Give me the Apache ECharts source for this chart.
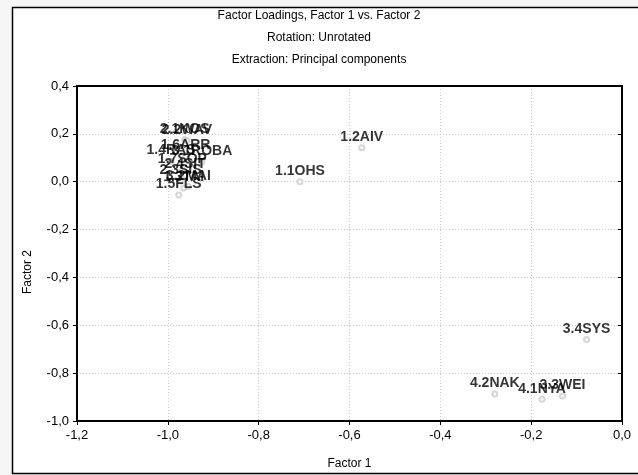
<!DOCTYPE html>
<html>
<head>
<meta charset="utf-8">
<script src="https://cdn.jsdelivr.net/npm/echarts@6/dist/echarts.min.js"></script>
<style>
  html, body { margin: 0; padding: 0; background: #f5f5f5; }
  #chart { width: 638px; height: 475px; }
</style>
</head>
<body>
<div id="chart"></div>
<script>
// variable names and their loadings on the first two (unrotated) factors
const varNames = ['1.1OHS', '1.2AIV', '1.3TAI', '1.4RAS', '1.5FLS', '1.6ARR', '1.7SOP',
    '2.1KOS', '2.2WAV', '2.3SIS', '2.4SIT', '3.1ROBA', '3.2MAI',
    '3.3WEI', '3.4SYS', '4.1NYA', '4.2NAK'];
const factor1 = [-0.709, -0.573, -0.965, -0.993, -0.976, -0.961, -0.968,
    -0.963, -0.958, -0.972, -0.962, -0.925, -0.955,
    -0.131, -0.078, -0.176, -0.280];
const factor2 = [0.000, 0.142, -0.026, 0.086, -0.055, 0.107, 0.049,
    0.176, 0.172, 0.003, 0.028, 0.082, -0.020,
    -0.896, -0.659, -0.909, -0.887];

const titleLines = ['Factor Loadings, Factor 1 vs. Factor 2', 'Rotation: Unrotated', 'Extraction: Principal components'];

const fmt = v => v.toFixed(1).replace('.', ',');

const chart = echarts.init(document.getElementById('chart'));

const points = varNames.map((n, i) => ({ name: n, value: [factor1[i], factor2[i]] }));

const gridLine = { show: true, lineStyle: { color: '#c8c8c8', type: [1, 2], width: 1 } };

const option = {
    backgroundColor: '#f5f5f5',
    animation: false,
    textStyle: { fontFamily: 'Liberation Sans, Arial, sans-serif' },
    graphic: [
        {
            type: 'rect', z: -10, silent: true,
            shape: { x: 12.5, y: 7.5, width: 640, height: 466 },
            style: { fill: '#ffffff', stroke: '#000', lineWidth: 1.5 }
        },
        ...titleLines.map((t, i) => ({
            type: 'text', left: 'center', top: 10 + i * 22,
            style: { text: t, font: '12px "Liberation Sans", Arial, sans-serif', fill: '#000' }
        })),
        {
            type: 'text', x: 22, y: 272, rotation: Math.PI / 2,
            style: { text: 'Factor 2', font: '12px "Liberation Sans", Arial, sans-serif', fill: '#000', align: 'center', verticalAlign: 'top' }
        }
    ],
    grid: { left: 77, right: 16, top: 86, bottom: 54, show: true, backgroundColor: '#fff', borderWidth: 0 },
    xAxis: [{
        type: 'value', min: -1.2, max: 0, interval: 0.2,
        name: 'Factor 1', nameLocation: 'middle', nameGap: 37,
        nameTextStyle: { fontSize: 12, color: '#000' },
        axisLine: { onZero: false, lineStyle: { color: '#000', width: 2 } },
        axisTick: { show: true, length: 4, lineStyle: { color: '#000' } },
        axisLabel: { color: '#000', fontSize: 13, margin: 8, formatter: fmt },
        splitLine: gridLine
    }, {
        type: 'value', position: 'top', min: -1.2, max: 0, interval: 0.2,
        axisLine: { onZero: false, lineStyle: { color: '#000', width: 2 } },
        axisTick: { show: false }, axisLabel: { show: false }, splitLine: { show: false }
    }],
    yAxis: [{
        type: 'value', min: -1.0, max: 0.4, interval: 0.2,
        axisLine: { show: true, onZero: false, lineStyle: { color: '#000', width: 2 } },
        axisTick: { show: true, length: 4, lineStyle: { color: '#000' } },
        axisLabel: { color: '#000', fontSize: 13, margin: 8, formatter: fmt },
        splitLine: gridLine
    }, {
        type: 'value', position: 'right', min: -1.0, max: 0.4, interval: 0.2,
        axisLine: { show: true, onZero: false, lineStyle: { color: '#000', width: 2 } },
        axisTick: { show: true, inside: true, length: 4, lineStyle: { color: '#000' } },
        axisLabel: { show: false }, splitLine: { show: false }
    }],
    series: [{
        type: 'scatter',
        data: points,
        symbol: 'emptyCircle',
        symbolSize: 5,
        itemStyle: { color: '#cccccc', borderColor: '#cccccc', borderWidth: 1 },
        label: {
            show: true, position: 'top', distance: 0,
            formatter: p => p.name,
            color: '#000', fontSize: 14, fontWeight: 'bold'
        },
        labelLayout: { hideOverlap: false }
    }]
};

chart.setOption(option);
</script>
</body>
</html>
